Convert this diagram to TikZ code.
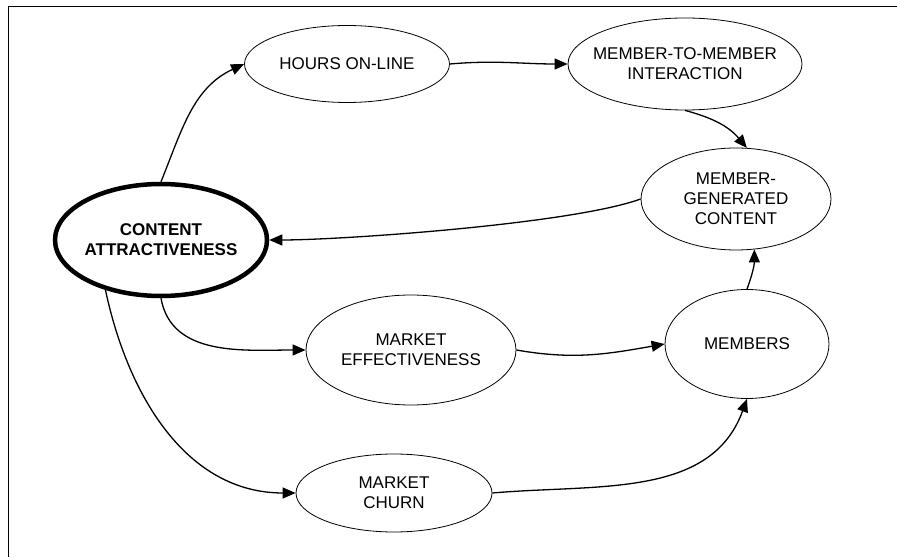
\documentclass[tikz,border=0pt]{standalone}
\usepackage{fontspec}
\setmainfont{Liberation Sans}
\usetikzlibrary{arrows.meta,shapes.geometric}
\begin{document}
\begin{tikzpicture}[x=1pt,y=1pt,
  bubble/.style={draw,ellipse,line width=0.8pt,inner sep=0pt,inner xsep=-30pt,align=center,font=\fontsize{17}{20}\selectfont},
  link/.style={line width=1.3pt,-{Triangle[length=13pt,width=11pt]}}]
  \useasboundingbox (0,0) rectangle (897,557);
  \draw[line width=1pt] (8,0) |- (897,550);
  \node[bubble,line width=4.5pt,font=\fontsize{17}{20}\selectfont\bfseries,minimum width=212pt,minimum height=112pt] (content) at (161,317){CONTENT\\ATTRACTIVENESS};
  \node[bubble,minimum width=205pt,minimum height=77pt] (hours) at (347,493){HOURS ON-LINE};
  \node[bubble,minimum width=234pt,minimum height=92pt] (m2m) at (685,493){MEMBER-TO-MEMBER\\INTERACTION};
  \node[bubble,minimum width=190pt,minimum height=102pt] (mgc) at (736,358){MEMBER-\\GENERATED\\CONTENT};
  \node[bubble,minimum width=164pt,minimum height=109pt] (members) at (747,213){MEMBERS};
  \node[bubble,minimum width=210pt,minimum height=110pt] (meff) at (411,207){MARKET\\EFFECTIVENESS};
  \node[bubble,minimum width=196pt,minimum height=78pt] (churn) at (394,64){MARKET\\CHURN};
  \draw[link] (content.north) to[out=68,in=205] (hours.west);
  \draw[link] (hours.east) to[out=5,in=180] (m2m.west);
  \draw[link] (m2m.south) to[out=-15,in=130] (mgc.78);
  \draw[link] (mgc.west) to[out=200,in=0,looseness=0.5] (content.east);
  \draw[link] (content.south) to[out=-80,in=180] (meff.west);
  \draw[link] (meff.east) to[out=-10,in=190] (members.west);
  \draw[link] (content.222) to[out=-78,in=180] (churn.west);
  \draw[link] (churn.east) to[out=5,in=-110] (members.south);
  \draw[link] (members.north) to[out=70,in=-90] (mgc.-70);
\end{tikzpicture}
\end{document}
